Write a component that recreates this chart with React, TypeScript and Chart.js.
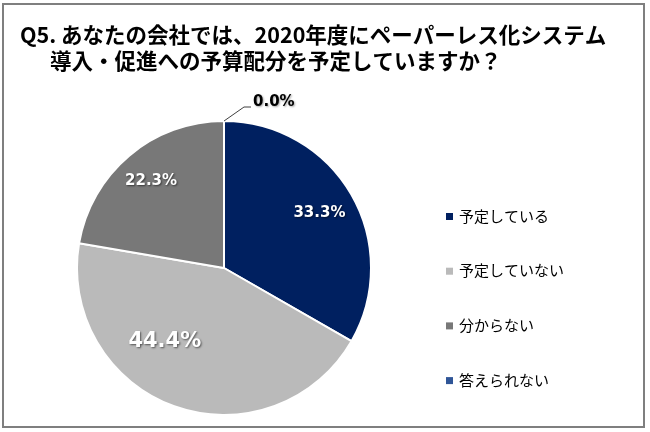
import React, { useEffect, useRef } from "react";
import { Chart, registerables } from "chart.js";

Chart.register(...registerables);

const categories = ["予定している", "予定していない", "分からない", "答えられない"];
const values = [33.3, 44.4, 22.3, 0.0];
const valueLabels = ["33.3%", "44.4%", "22.3%", "0.0%"];
const colors = ["#002060", "#BABABA", "#787878", "#2F5597"];
const titleLines = [
  "Q5. あなたの会社では、2020年度にペーパーレス化システム",
  "導入・促進への予算配分を予定していますか？",
];

// label placement styles (fraction of slice angle / radius)
const labelAngleFrac = [0.5, 0.62, 0.5, 0.5];
const labelRadiusFrac = [0.75, 0.64, 0.77, 1];
const labelFontSize = [15, 21, 15, 15];

const JP = '"Noto Sans CJK JP", "Noto Sans", sans-serif';
const NUM = '"DejaVu Sans", Verdana, sans-serif';

const framePlugin = {
  id: "frame",
  beforeDraw(chart: any) {
    const ctx = chart.ctx;
    ctx.save();
    ctx.fillStyle = "#ffffff";
    ctx.fillRect(0, 0, chart.width, chart.height);
    ctx.strokeStyle = "#7f7f7f";
    ctx.lineWidth = 2;
    ctx.strokeRect(3, 4, 641, 423);
    // title
    ctx.fillStyle = "#000000";
    ctx.font = `bold 21.5px ${JP}`;
    ctx.textBaseline = "middle";
    ctx.textAlign = "left";
    ctx.fillText(titleLines[0], 20, 35);
    ctx.fillText(titleLines[1], 50, 61);
    ctx.restore();
  },
};

const labelPlugin = {
  id: "sliceLabels",
  afterDatasetsDraw(chart: any) {
    const ctx = chart.ctx;
    const meta = chart.getDatasetMeta(0);
    ctx.save();
    meta.data.forEach((arc: any, i: number) => {
      const p = arc.getProps(["x", "y", "startAngle", "endAngle", "outerRadius"], true);
      const v = values[i];
      if (v > 0) {
        const a = p.startAngle + (p.endAngle - p.startAngle) * labelAngleFrac[i];
        const r = p.outerRadius * labelRadiusFrac[i];
        const px = p.x + Math.cos(a) * r;
        const py = p.y + Math.sin(a) * r;
        ctx.font = `bold ${labelFontSize[i]}px ${NUM}`;
        ctx.textAlign = "center";
        ctx.textBaseline = "middle";
        ctx.shadowColor = "rgba(0,0,0,0.55)";
        ctx.shadowBlur = 2;
        ctx.shadowOffsetX = 1;
        ctx.shadowOffsetY = 1;
        ctx.fillStyle = "#ffffff";
        ctx.fillText(valueLabels[i], px, py);
      } else {
        const a = p.startAngle;
        const ex = p.x + Math.cos(a) * p.outerRadius;
        const ey = p.y + Math.sin(a) * p.outerRadius;
        ctx.shadowColor = "transparent";
        ctx.strokeStyle = "#404040";
        ctx.lineWidth = 1;
        ctx.beginPath();
        ctx.moveTo(ex, ey);
        ctx.lineTo(ex + 20, ey - 14);
        ctx.lineTo(ex + 27, ey - 14);
        ctx.stroke();
        ctx.shadowColor = "rgba(0,0,0,0.35)";
        ctx.shadowBlur = 2;
        ctx.shadowOffsetX = 1;
        ctx.shadowOffsetY = 1;
        ctx.font = `bold ${labelFontSize[i]}px ${NUM}`;
        ctx.textAlign = "left";
        ctx.textBaseline = "middle";
        ctx.fillStyle = "#000000";
        ctx.fillText(valueLabels[i], ex + 29, ey - 19);
      }
    });
    ctx.restore();

    // legend
    ctx.save();
    const lx = 446;
    const ly0 = 216;
    const step = 54.7;
    categories.forEach((c, i) => {
      const y = ly0 + step * i;
      ctx.fillStyle = colors[i];
      ctx.fillRect(lx, y - 3, 7, 7);
      ctx.fillStyle = "#000000";
      ctx.font = `15px ${JP}`;
      ctx.textAlign = "left";
      ctx.textBaseline = "middle";
      ctx.fillText(c, lx + 13, y);
    });
    ctx.restore();
  },
};

export default function App() {
  const ref = useRef<HTMLCanvasElement | null>(null);
  useEffect(() => {
    if (!ref.current) return;
    const chart = new Chart(ref.current, {
      type: "pie",
      data: {
        labels: categories,
        datasets: [
          {
            data: values,
            backgroundColor: colors,
            borderColor: "#ffffff",
            borderWidth: 2,
            hoverOffset: 0,
          },
        ],
      },
      options: {
        responsive: false,
        animation: false,
        devicePixelRatio: 1,
        layout: { padding: { left: 76, right: 278, top: 120, bottom: 16 } },
        plugins: {
          legend: { display: false },
          tooltip: { enabled: false },
          title: { display: false },
        },
      },
      plugins: [framePlugin, labelPlugin],
    } as any);
    return () => chart.destroy();
  }, []);
  return (
    <div style={{ position: "fixed", left: 0, top: 0, width: 650, height: 432, background: "#fff" }}>
      <canvas ref={ref} width={650} height={432} style={{ width: 650, height: 432, display: "block" }} />
    </div>
  );
}
